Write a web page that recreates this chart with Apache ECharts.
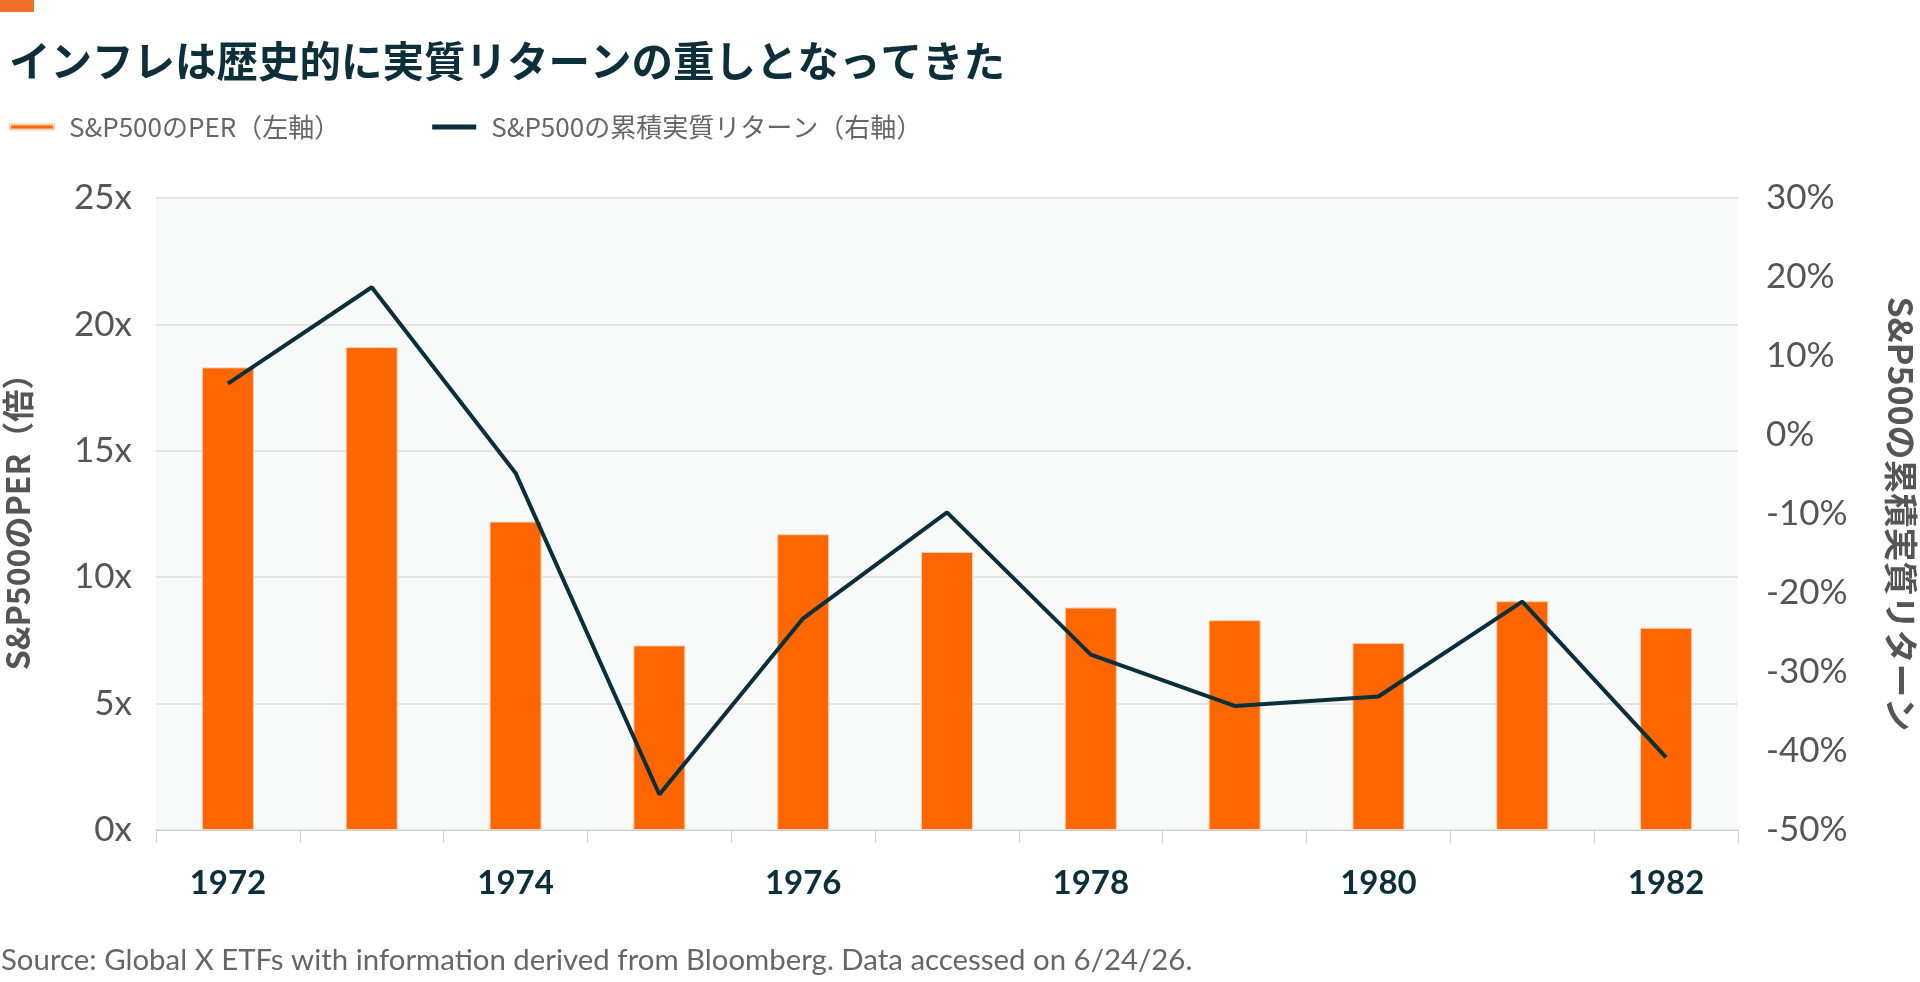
<!DOCTYPE html>
<html>
<head>
<meta charset="utf-8">
<script src="https://cdn.jsdelivr.net/npm/echarts@6/dist/echarts.min.js"></script>
<style>
html,body{margin:0;padding:0;background:#fff;}
#c{width:1920px;height:982px;}
</style>
</head>
<body>
<div id="c"></div>
<script>
const years = ['1972','1973','1974','1975','1976','1977','1978','1979','1980','1981','1982'];
const perValues = [18.3, 19.1, 12.2, 7.3, 11.7, 11.0, 8.8, 8.3, 7.4, 9.05, 8.0];
const realReturn = [6.5, 18.7, -4.8, -45.5, -23.2, -9.8, -27.8, -34.3, -33.1, -21.1, -40.8];
const leftTicks = {min: 0, max: 25, interval: 5};
const rightTicks = {min: -50, max: 30, interval: 10};

const FONT = 'Lato, "Noto Sans CJK JP", sans-serif';
const JP = '"Noto Sans CJK JP", Lato, sans-serif';
const chart = echarts.init(document.getElementById('c'));
chart.setOption({
  animation: false,
  backgroundColor: '#fff',
  title: {
    text: 'インフレは歴史的に実質リターンの重しとなってきた',
    left: 4, top: 35,
    textStyle: {fontFamily: JP, fontSize: 41.5, fontWeight: 'bold', color: '#0d2f3a'}
  },
  graphic: [
    {type: 'rect', left: 0, top: 0, shape: {width: 34, height: 12}, style: {fill: '#f26e2a'}},
    {type: 'text', left: 1, top: 946, style: {
      text: 'Source: Global X ETFs with information derived from Bloomberg. Data accessed on 6/24/26.',
      font: '29.4px ' + FONT, fill: '#666'}}
  ],
  legend: {
    left: 4, top: 109,
    itemWidth: 44, itemHeight: 5, itemGap: 92,
    textStyle: {fontFamily: JP, fontSize: 26, color: '#666', padding: [0, 0, 0, 10]},
    data: [
      {name: 'S&P500のPER（左軸）', icon: 'rect'},
      {name: 'S&P500の累積実質リターン（右軸）', icon: 'rect'}
    ]
  },
  grid: {
    left: 156, right: 182, top: 198, bottom: 152,
    containLabel: false, outerBoundsMode: 'none',
    show: true, backgroundColor: '#f8f9f9', borderWidth: 0
  },
  xAxis: {
    type: 'category',
    data: years,
    boundaryGap: true,
    axisLine: {lineStyle: {color: '#d0d0d0', width: 1}},
    axisTick: {show: true, interval: 0, length: 13, alignWithLabel: false, lineStyle: {color: '#d0d0d0'}},
    axisLabel: {interval: 1, margin: 37, fontFamily: FONT, fontSize: 33, fontWeight: 'bold', color: '#0d2f3a'}
  },
  yAxis: [
    {
      type: 'value', min: leftTicks.min, max: leftTicks.max, interval: leftTicks.interval,
      name: 'S&P500のPER（倍）', nameLocation: 'middle', nameRotate: 90, nameGap: 122,
      nameTextStyle: {fontFamily: JP, fontSize: 32, fontWeight: 'bold', color: '#555'},
      axisLine: {show: false}, axisTick: {show: false},
      axisLabel: {formatter: '{value}x', margin: 24, fontFamily: FONT, fontSize: 35, color: '#555'},
      splitLine: {lineStyle: {color: '#dcdcdc', width: 1.5}}
    },
    {
      type: 'value', min: rightTicks.min, max: rightTicks.max, interval: rightTicks.interval,
      name: 'S&P500の累積実質リターン', nameLocation: 'middle', nameRotate: -90, nameGap: 146,
      nameTextStyle: {fontFamily: JP, fontSize: 34, fontWeight: 'bold', color: '#555'},
      axisLine: {show: false}, axisTick: {show: false},
      axisLabel: {formatter: '{value}%', margin: 28, fontFamily: FONT, fontSize: 35, color: '#555'},
      splitLine: {show: false}
    }
  ],
  series: [
    {
      name: 'S&P500のPER（左軸）', type: 'bar', yAxisIndex: 0,
      data: perValues, barWidth: 52,
      itemStyle: {color: '#ff6600', borderColor: '#f7cfb2', borderWidth: 1}
    },
    {
      name: 'S&P500の累積実質リターン（右軸）', type: 'line', yAxisIndex: 1,
      data: realReturn, symbol: 'none',
      lineStyle: {color: '#0b2f3a', width: 4},
      itemStyle: {color: '#0b2f3a'}
    }
  ]
});
</script>
</body>
</html>
